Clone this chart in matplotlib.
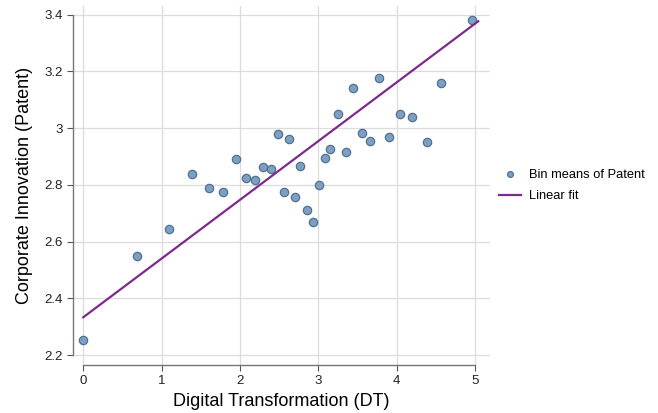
import numpy as np
import matplotlib.pyplot as plt

plt.rcParams['font.family'] = ['Liberation Sans', 'DejaVu Sans']

# bin means
dt = [0.00, 0.69, 1.10, 1.39, 1.61, 1.79, 1.95, 2.08, 2.19, 2.30, 2.40,
      2.49, 2.56, 2.63, 2.70, 2.77, 2.86, 2.93, 3.01, 3.09, 3.15, 3.25,
      3.35, 3.44, 3.56, 3.66, 3.78, 3.90, 4.04, 4.20, 4.38, 4.57, 4.96]
patent = [2.253, 2.549, 2.645, 2.839, 2.789, 2.775, 2.892, 2.825, 2.818, 2.864, 2.857,
          2.980, 2.775, 2.962, 2.758, 2.867, 2.712, 2.670, 2.800, 2.895, 2.927, 3.050,
          2.917, 3.142, 2.984, 2.955, 3.176, 2.970, 3.050, 3.040, 2.950, 3.157, 3.380]

# linear fit
fit_intercept = 2.333
fit_slope = 0.207
fit_range = [0.0, 5.04]

xticks = [0, 1, 2, 3, 4, 5]
yticks = [2.2, 2.4, 2.6, 2.8, 3.0, 3.2, 3.4]
ylabels = ['2.2', '2.4', '2.6', '2.8', '3', '3.2', '3.4']

fig = plt.figure(figsize=(6.58, 4.13), dpi=100)
ax = fig.add_axes([73/658, 48/413, (490-73)/658, (365-6)/413])

ax.scatter(dt, patent, s=36, color='#7f9fc0', edgecolors='#4f7196',
           linewidths=0.9, zorder=3, label='Bin means of Patent')
xf = np.array(fit_range)
ax.plot(xf, fit_intercept + fit_slope*xf, color='#7e2a8c', lw=1.6,
        zorder=4, label='Linear fit')

ax.set_xlim(-0.13, 5.19)
ax.set_ylim(2.165, 3.43)
ax.set_xticks(xticks)
ax.set_yticks(yticks)
ax.set_yticklabels(ylabels)
ax.grid(True, color='#dcdcdc', lw=0.9)
ax.set_axisbelow(True)

for s in ['top', 'right']:
    ax.spines[s].set_visible(False)
ax.spines['left'].set_bounds(2.2, 3.4)
ax.spines['bottom'].set_bounds(0, 5)
for s in ['left', 'bottom']:
    ax.spines[s].set_color('#777777')
    ax.spines[s].set_linewidth(1.0)
ax.tick_params(colors='#555555', labelcolor='#222222', labelsize=9.5, length=4)

ax.set_xlabel('Digital Transformation (DT)', fontsize=13, labelpad=4)
ax.set_ylabel('Corporate Innovation (Patent)', fontsize=13, labelpad=8)

ax.legend(loc='center left', bbox_to_anchor=(1.0, 0.50), frameon=False,
          fontsize=9.3, handlelength=1.7, handletextpad=0.6, labelspacing=0.75,
          borderaxespad=0.3, markerscale=0.7)

fig.savefig('out.png', dpi=100)
